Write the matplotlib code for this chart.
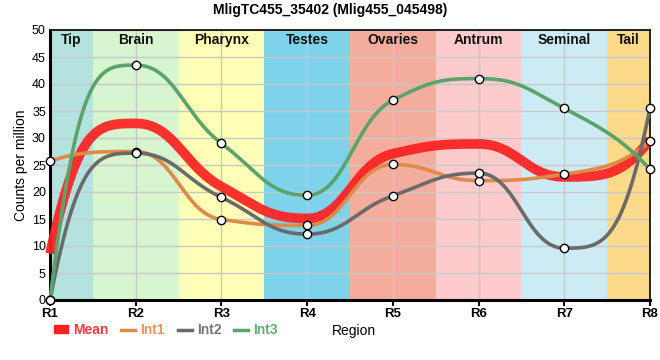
import numpy as np
import matplotlib
matplotlib.use("Agg")
import matplotlib.pyplot as plt
from matplotlib.lines import Line2D
from matplotlib.patches import Patch

plt.rcParams['font.family'] = ['Liberation Sans', 'DejaVu Sans']

title = "MligTC455_35402 (Mlig455_045498)"
regions = ["R1", "R2", "R3", "R4", "R5", "R6", "R7", "R8"]
mean = [8.6, 32.7, 21.0, 15.1, 27.1, 28.9, 22.8, 29.7]
int1 = [25.7, 27.5, 14.9, 13.8, 25.1, 22.1, 23.3, 29.4]
int2 = [0.0, 27.2, 19.0, 12.2, 19.3, 23.5, 9.6, 35.5]
int3 = [0.0, 43.5, 29.0, 19.4, 37.0, 41.0, 35.5, 24.2]
band_names = ["Tip", "Brain", "Pharynx", "Testes", "Ovaries", "Antrum", "Seminal", "Tail"]
band_colors = ["#b3e2df", "#d7f6cf", "#fefeb6", "#7ed3eb", "#f4ac9d", "#fdcbcb", "#cdebf5", "#fdd98a"]


def smooth(xs, ys, off=0.45, nseg=60):
    xs = np.asarray(xs, float)
    ys = np.asarray(ys, float)
    n = len(xs)
    h = np.diff(xs)
    s = np.diff(ys) / h
    t = np.zeros(n)
    for i in range(1, n - 1):
        s0, s1 = s[i - 1], s[i]
        if s0 * s1 <= 0:
            t[i] = 0.0
        else:
            p = (s0 * h[i] + s1 * h[i - 1]) / (h[i - 1] + h[i])
            t[i] = (np.sign(s0) + np.sign(s1)) * min(abs(s0), abs(s1), 0.5 * abs(p))
    for i, j, k in [(0, 0, 1), (n - 1, n - 2, n - 2)]:
        sv = s[j]
        tv = 3 * sv - 2 * t[k]
        if tv * sv <= 0:
            tv = 0.0
        elif abs(tv) > 3 * abs(sv):
            tv = 3 * sv
        t[i] = tv
    X, Y = [xs[0]], [ys[0]]
    u = np.linspace(0, 1, nseg)[1:]
    for i in range(n - 1):
        hh = h[i]
        o0 = 1 / 3 if i == 0 else off
        o1 = 1 / 3 if i == n - 2 else off
        p0 = np.array([xs[i], ys[i]])
        p3 = np.array([xs[i + 1], ys[i + 1]])
        p1 = p0 + o0 * hh * np.array([1.0, t[i]])
        p2 = p3 - o1 * hh * np.array([1.0, t[i + 1]])
        b = ((1 - u) ** 3)[:, None] * p0 + (3 * (1 - u) ** 2 * u)[:, None] * p1 \
            + (3 * (1 - u) * u ** 2)[:, None] * p2 + (u ** 3)[:, None] * p3
        X.extend(b[:, 0])
        Y.extend(b[:, 1])
    return np.array(X), np.array(Y)


fig = plt.figure(figsize=(6.6, 3.6), dpi=100)
ax = fig.add_axes([50 / 660, 60 / 360, 600 / 660, 270 / 360])
x = np.arange(len(regions))

edges = [0] + [i + 0.5 for i in range(len(regions) - 1)] + [len(regions) - 1]
for j, (nm, col) in enumerate(zip(band_names, band_colors)):
    ax.axvspan(edges[j], edges[j + 1], color=col, zorder=0, lw=0)
    ax.text((edges[j] + edges[j + 1]) / 2, 48.2, nm, ha='center', va='center',
            fontsize=10, fontweight='bold', color='#111111', zorder=5)

ax.set_xlim(0, len(regions) - 1)
ax.set_ylim(0, 50)
ax.set_xticks(x)
ax.set_xticklabels(regions, fontsize=9.5, fontweight='bold')
ax.set_yticks(np.arange(0, 51, 5))
ax.tick_params(axis='y', labelsize=9, length=0, pad=3)
ax.tick_params(axis='x', length=4, width=1.5, pad=2)
ax.grid(True, color='#c8c8c8', lw=1, zorder=1)
ax.set_axisbelow(True)
for sp in ['left', 'bottom']:
    ax.spines[sp].set_linewidth(2.2)
for sp in ['top', 'right']:
    ax.spines[sp].set_linewidth(1.2)
ax.set_ylabel("Counts per million", fontsize=10, labelpad=3)

series = [(int1, '#df8a47'), (int2, '#6a6a6a'), (int3, '#5aa36a')]
sx, sy = smooth(x, mean)
ax.plot(sx, sy, color='#ff2020', lw=7, alpha=0.92, zorder=3, solid_capstyle='butt', clip_on=False)
for vals, col in series:
    sx, sy = smooth(x, vals)
    ax.plot(sx, sy, color=col, lw=2.6, zorder=4, clip_on=False)
for vals, col in series:
    ax.plot(x, vals, 'o', ms=6, mfc='white', mec='black', mew=1, zorder=6, clip_on=False)

handles = [Patch(color='#ff2020'),
           Line2D([], [], color='#df8a47', lw=2.5),
           Line2D([], [], color='#6a6a6a', lw=2.5),
           Line2D([], [], color='#5aa36a', lw=2.5)]
labels = ["Mean", "Int1", "Int2", "Int3"]
leg = fig.legend(handles, labels, loc='center left', bbox_to_anchor=(44 / 660, 1 - 330 / 360),
                 ncol=4, frameon=False, handlelength=1.0, handleheight=0.5, handletextpad=0.4,
                 columnspacing=0.9, borderpad=0.2, prop={'weight': 'bold', 'size': 10})
for txt, c in zip(leg.get_texts(), ['#ff3b3b', '#e89560', '#777777', '#66aa77']):
    txt.set_color(c)
fig.text(332 / 660, 1 - 331 / 360, "Region", ha='left', va='center', fontsize=10)

fig.suptitle(title, x=0.5, y=1 - 10 / 360, va='center', fontsize=10, fontweight='bold')

fig.savefig("out.png", dpi=100)
